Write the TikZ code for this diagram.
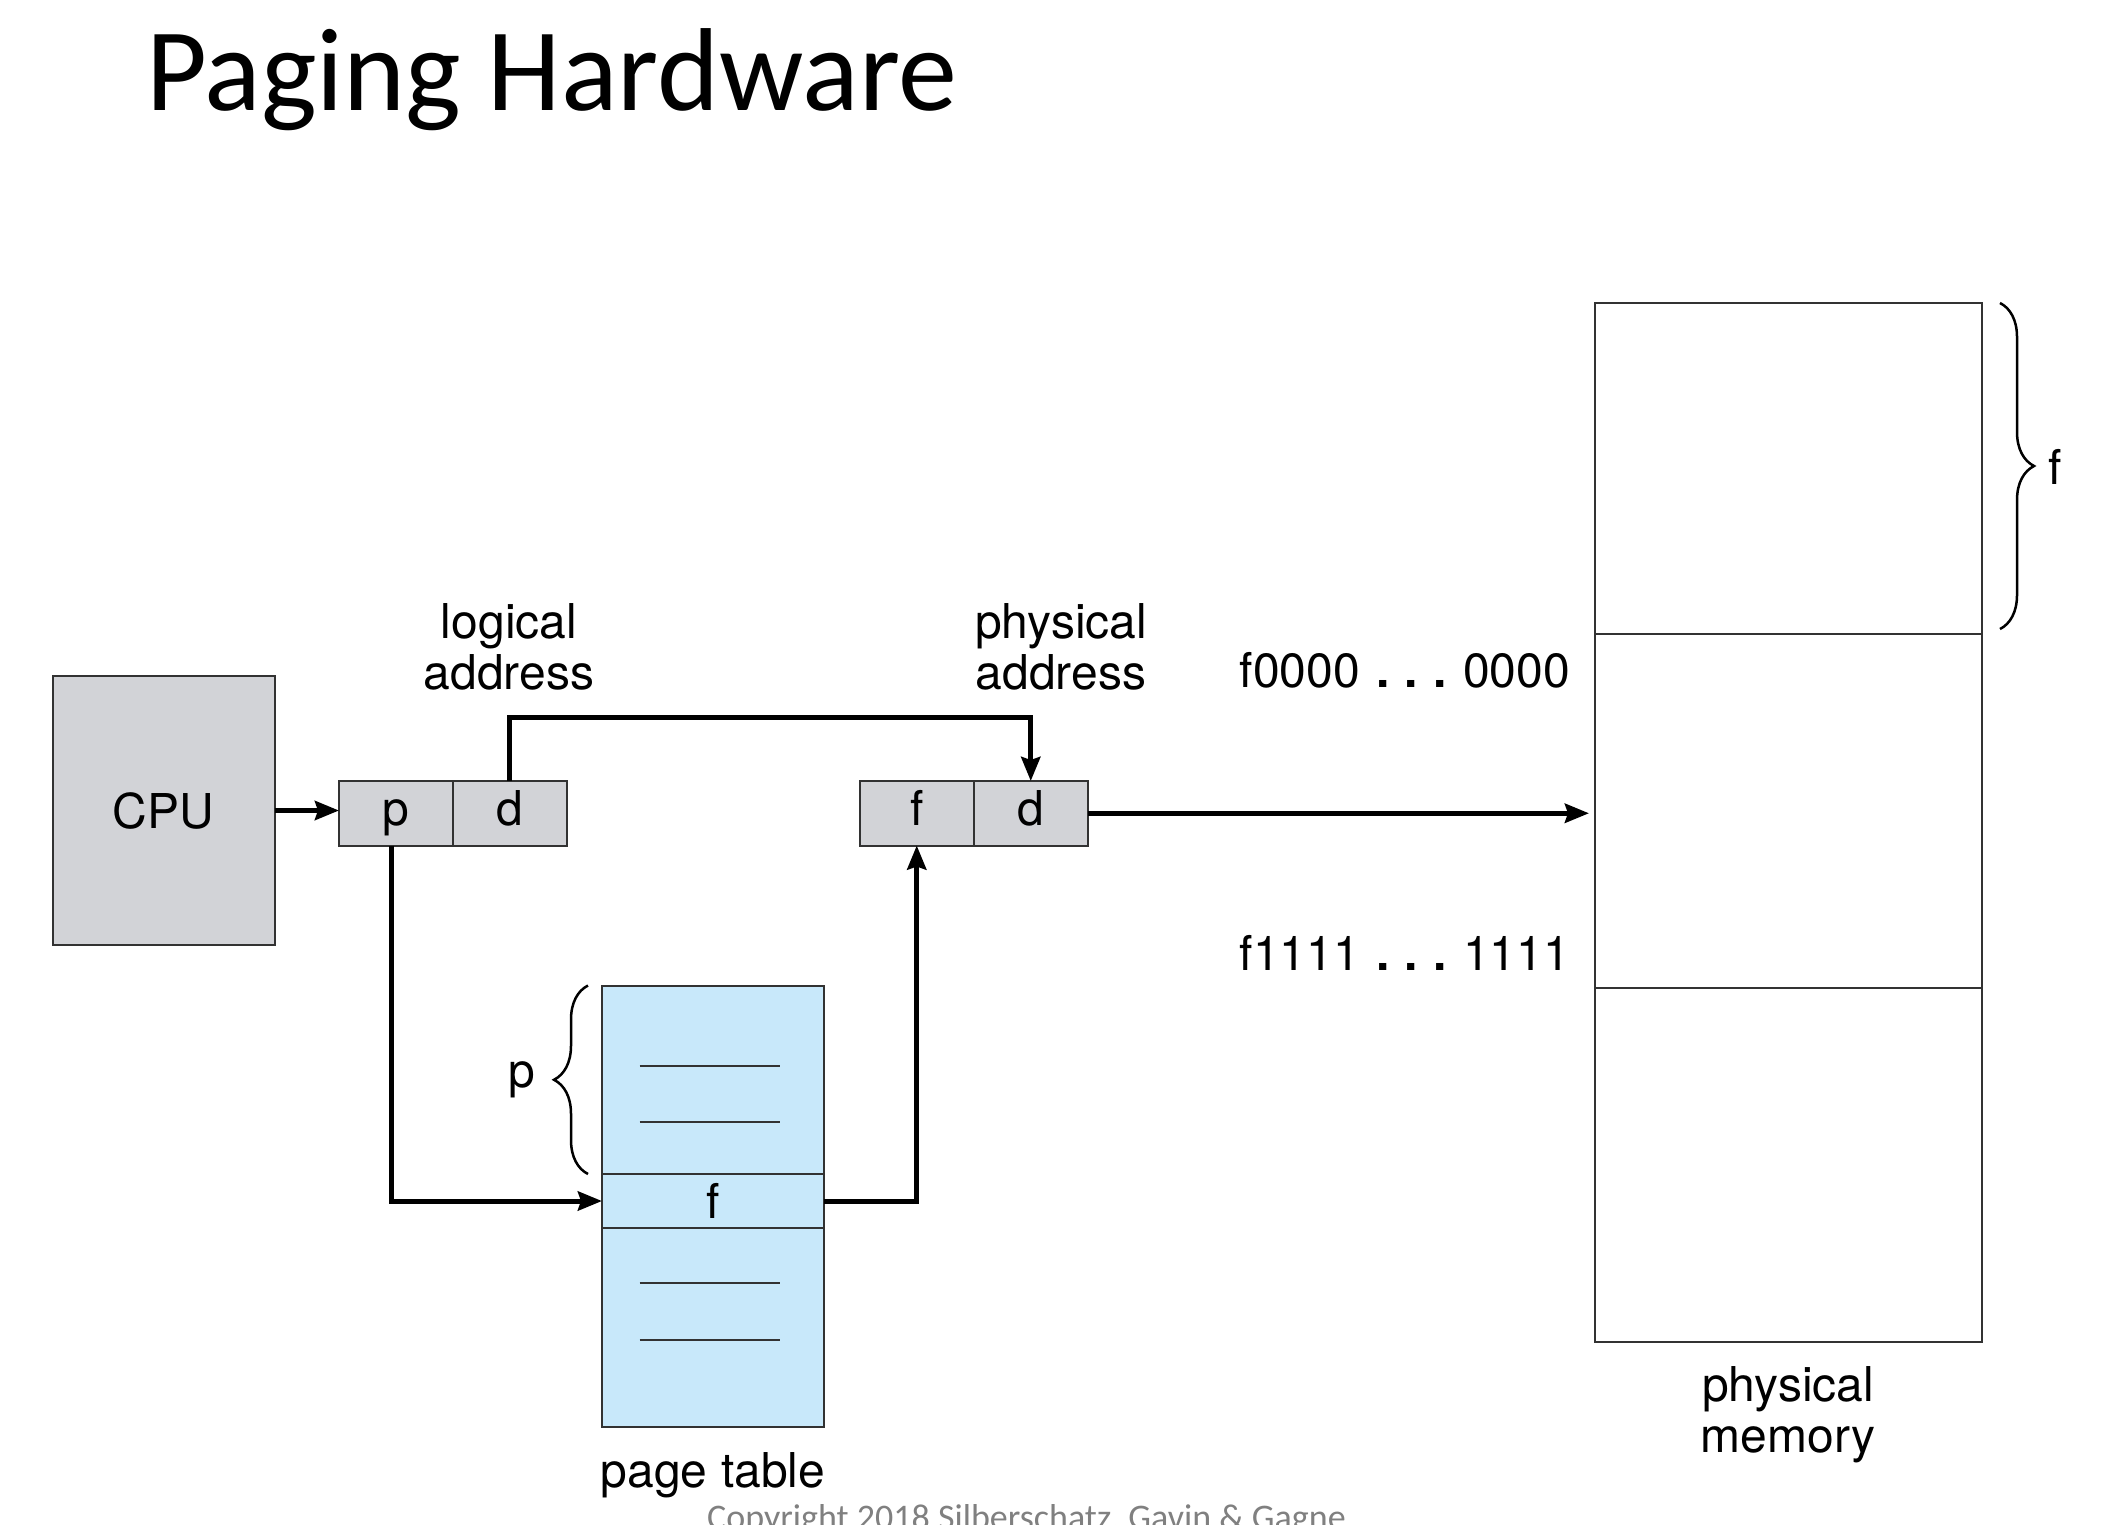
\documentclass[tikz,border=0pt]{standalone}
\usepackage{fontspec}
\setmainfont{TeX Gyre Heros}
\newfontfamily\slidefont{Carlito}
\usetikzlibrary{arrows.meta,decorations.pathreplacing}

\definecolor{boxgray}{RGB}{210,211,215}
\definecolor{tableblue}{RGB}{200,232,250}
\definecolor{edgegray}{RGB}{50,50,50}
\definecolor{footgray}{RGB}{128,128,128}

% square-ish dots of the address range labels
\newcommand{\rangedots}{\hspace{16pt}{\bfseries .}\hspace{15.5pt}{\bfseries .}\hspace{15.5pt}{\bfseries .}\hspace{16pt}}

\begin{document}
\begin{tikzpicture}[x=1pt,y=-1pt,
  lbl/.style={inner sep=0pt, font=\fontsize{48}{51}\selectfont},
  cell/.style={draw=edgegray, line width=2pt, inner sep=0pt, outer sep=0pt},
  field/.style={cell, fill=boxgray, minimum height=64.5pt,
    text height=34pt, text depth=10pt, font=\fontsize{48}{51}\selectfont},
  frame/.style={cell, fill=white, minimum width=387pt},
  entry/.style={cell, fill=tableblue, minimum width=222pt},
  conn/.style={line width=5pt, draw=black,
    -{Stealth[length=24pt,width=19pt,inset=3pt]}},
  curly/.style={line width=2.5pt, decorate,
    decoration={brace, amplitude=34pt}},
  rule/.style={line width=2pt, draw=edgegray}
]
\fill[white] (0,0) rectangle (2111,1524);
\useasboundingbox (0,0) rectangle (2111,1524);

% title and footer
\node[anchor=base west, inner sep=0pt,
  font=\slidefont\fontsize{118}{130}\selectfont] (title) at (146,110) {Paging Hardware};
\node[anchor=base west, inner sep=0pt, text=footgray,
  font=\slidefont\fontsize{36}{40}\selectfont] (copy) at (707,1529)
  {Copyright 2018 Silberschatz, Gavin \& Gagne};

% CPU
\node[cell, fill=boxgray, minimum width=222pt, minimum height=269pt,
  font=\fontsize{48}{51}\selectfont] (cpu) at (163.5,810.5) {CPU};

% logical address register
\node[field, minimum width=113.5pt] (lp) at (395.75,813.25) {p};
\node[field, minimum width=114.5pt] (ld) at (509.75,813.25) {d};
\node[lbl, align=center] (lal) at (509,647) {logical\\address};

% physical address register
\node[field, minimum width=113.5pt] (pf) at (916.75,813.25) {f};
\node[field, minimum width=114.5pt] (pd) at (1030.75,813.25) {d};
\node[lbl, align=center] (pal) at (1061,647) {physical\\address};

% page table
\node[entry, minimum height=188.5pt] (ptA) at (713,1079.75) {};
\node[entry, minimum height=54pt, text height=34pt, text depth=0pt,
  font=\fontsize{48}{51}\selectfont] (ptF) at (713,1201) {f};
\node[entry, minimum height=199pt] (ptB) at (713,1327.5) {};
\draw[rule] (639.5,1066) -- (779.5,1066);
\draw[rule] (639.5,1121.5) -- (779.5,1121.5);
\draw[rule] (639.5,1283) -- (779.5,1283);
\draw[rule] (639.5,1339.5) -- (779.5,1339.5);
\node[lbl] (ptl) at (713,1475) {page table};
\draw[curly] (588,1174) -- (588,985.5);
\node[lbl] (plab) at (522,1080) {p};

% physical memory
\node[frame, minimum height=331pt] (m1) at (1788.5,468.5) {};
\node[frame, minimum height=354pt] (m2) at (1788.5,811) {};
\node[frame, minimum height=354pt] (m3) at (1788.5,1165) {};
\node[lbl, align=center] (pml) at (1788,1415) {physical\\memory};
\draw[curly] (2000,303) -- (2000,629);
\node[lbl] (flab) at (2055,467) {f};
\node[lbl, anchor=base east] (r0) at (1570,687) {f0000\rangedots0000};
\node[lbl, anchor=base east] (r1) at (1570,970) {f1111\rangedots1111};

% connectors
\draw[conn] (cpu.east) -- (cpu.east -| lp.west);
\draw[conn] (ld.north) -- ++(0,-63.5) -| (pd.north);
\draw[conn] ([xshift=-4pt]lp.south) |- (ptF.west);
\draw[conn] (ptF.east) -| (pf.south);
\draw[conn, shorten >=6pt] (pd.east) -- (pd.east -| m2.west);
\end{tikzpicture}
\end{document}
